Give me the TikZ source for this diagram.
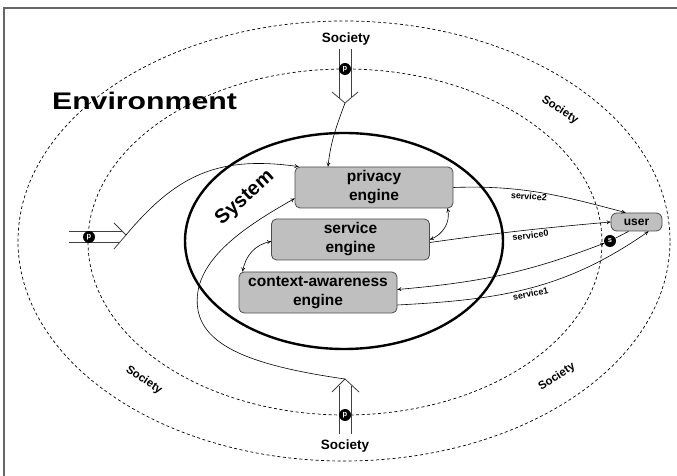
\documentclass[tikz,border=0pt]{standalone}
\usepackage{fontspec}
\setmainfont{Liberation Sans}
\usetikzlibrary{arrows.meta}
\pgfdeclarelayer{bg}
\pgfsetlayers{bg,main}
\tikzset{>={To[length=4pt,width=4pt]}}
\tikzset{
    engine/.style={rectangle, rounded corners=5pt, draw=black!70, fill=black!25,
    	line width=0.8pt, minimum width=158pt, minimum height=41pt, align=center,
    	font=\fontsize{15.5}{19}\selectfont\bfseries},
    badge/.style={circle, fill=black, text=white, inner sep=0pt, minimum size=12pt,
    	font=\fontsize{7.5}{7.5}\selectfont\bfseries},
    soc/.style={inner sep=0pt, font=\fontsize{11.5}{11.5}\selectfont\bfseries},
    svc/.style={inner sep=0pt, font=\fontsize{9}{9}\selectfont\bfseries},
    zone/.style={line width=0.7pt, dash pattern=on 3pt off 2.5pt},
    pipe/.style={line width=0.8pt, draw=black!75},
    flow/.style={line width=0.6pt, ->}
}

\begin{document}
\begin{tikzpicture}[x=1pt, y=1pt]
  \useasboundingbox (0,0) rectangle (677,476);
  \draw[black!60, line width=1.6pt] (4,0) -- (4,468) -- (677,468);

  \begin{pgfonlayer}{bg}
	  \draw[zone] (344,235) ellipse [x radius=326, y radius=220];
	  \draw[zone] (345,234) ellipse [x radius=257, y radius=173];
	  \draw[line width=2.4pt] (344,235) ellipse [x radius=159, y radius=108];
  \end{pgfonlayer}

  \node (env) [inner sep=0pt, anchor=base, xscale=1.26,
  	font=\fontsize{24}{24}\selectfont\bfseries] at (144.5,366) {Environment};
  \node (sys) [rotate=42, font=\fontsize{20}{20}\selectfont\bfseries] at (245,278) {System};

  \node (priv) [engine] at (374,288.5) {privacy\\engine};
  \node (serv) [engine] at (350.5,236.5) {service\\engine};
  \node (ctx) [engine] at (318,183.5) {context-awareness\\engine};
  \node (user) [engine, minimum width=51pt, minimum height=18pt, rounded corners=6pt,
  	font=\fontsize{12}{12}\selectfont\bfseries] at (636.5,254) {user};

  \node (soct) [soc, font=\fontsize{13.5}{13.5}\selectfont\bfseries] at (346,437) {Society};
  \node (socb) [soc, font=\fontsize{13.5}{13.5}\selectfont\bfseries] at (345,30) {Society};
  \node (socr) [soc, rotate=-33] at (560,366) {Society};
  \node (socl) [soc, rotate=-34] at (144,96) {Society};
  \node (socd) [soc, rotate=33] at (557,99) {Society};

  % pipes from society
  \coordinate (ta) at (345,373);
  \coordinate (la) at (126,241);
  \coordinate (ba) at (345,97);
  \draw[pipe] (339,427) -- (339,378) (351,427) -- (351,378);
  \draw[pipe] (332,384) -- (ta) -- (358,384);
  \draw[pipe] (69,245) -- (122,245) (69,234) -- (120,234);
  \draw[pipe] (114,253) -- (la) -- (114,227);
  \draw[pipe] (339,42) -- (339,90) (351,42) -- (351,90);
  \draw[pipe] (332,84) -- (ba) -- (359,84);

  \node (p0) [badge] at (345,407) {p};
  \node (p1) [badge] at (89,239) {p};
  \node (p2) [badge] at (345,61) {p};
  \node (s0) [badge] at (610,235) {s};

  \draw[flow] (ta) to[out=-110, in=84] ([xshift=-46pt]priv.north);
  \draw[flow] (la) to[out=50, in=172, looseness=1.1] ([xshift=4pt]priv.north west);
  \draw[flow] (ba) .. controls (240,112) and (190,135) .. (198,185)
  	.. controls (205,225) and (255,255) .. ([yshift=-11pt]priv.west);

  \draw[flow, <->] ([xshift=-6pt]priv.south east) to[out=-75, in=20] (serv.east);
  \draw[flow, <->] ([yshift=-2pt]serv.west) to[out=190, in=80] ([xshift=4pt]ctx.north west);

  \draw[flow] (priv.east) to[out=2, in=165]
  	node[svc, pos=.43, below=2pt, rotate=-4] {service2} ([xshift=-11pt]user.north);
  \draw[flow] ([yshift=-3pt]serv.east) to[out=8, in=185]
  	node[svc, pos=.56, below=2pt, rotate=7] {service0} (user.west);
  \draw[flow, <->] ([yshift=3pt]ctx.east) to[out=5, in=201] (s0);
  \draw[line width=0.6pt] (s0) -- ([xshift=-8pt]user.south);
  \draw[flow] ([yshift=-12.5pt]ctx.east) to[out=3, in=215]
  	node[svc, pos=.5, below=2pt, rotate=12] {service1} ([xshift=12pt]user.south);

\end{tikzpicture}
\end{document}
